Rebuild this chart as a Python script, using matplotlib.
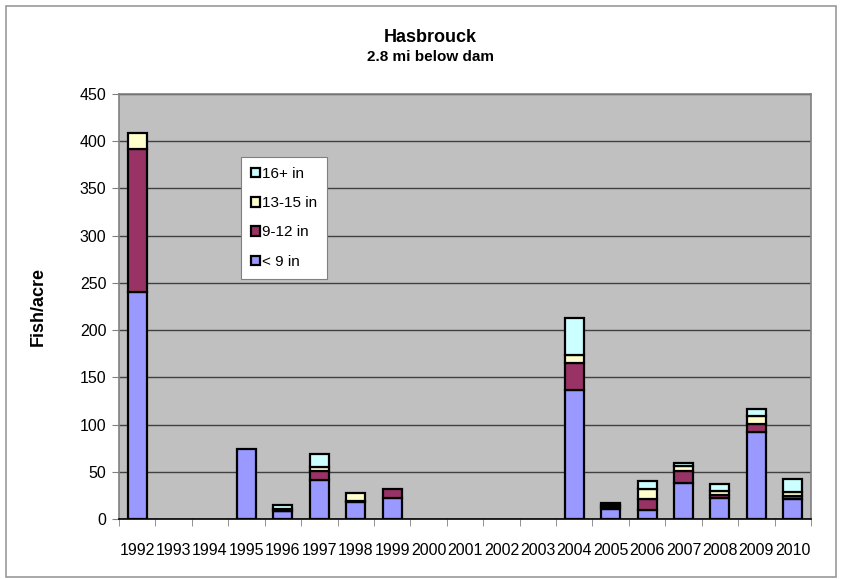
import matplotlib
matplotlib.use("Agg")
import matplotlib.pyplot as plt
import numpy as np
from matplotlib.patches import Rectangle, Patch

years = ["1992", "1993", "1994", "1995", "1996", "1997", "1998", "1999", "2000", "2001",
         "2002", "2003", "2004", "2005", "2006", "2007", "2008", "2009", "2010"]
lt9   = [240, 0, 0, 74, 8, 41, 18, 22, 0, 0, 0, 0, 137, 11, 10, 38, 22, 92, 21]
in9_12 = [152, 0, 0, 0, 1, 10, 1, 10, 0, 0, 0, 0, 28, 2, 11, 13, 3, 9, 3]
in13_15 = [17, 0, 0, 0, 2, 4, 9, 0, 0, 0, 0, 0, 9, 2, 11, 5, 5, 8, 5]
in16p = [0, 0, 0, 0, 4, 14, 0, 0, 0, 0, 0, 0, 39, 2, 8, 3, 7, 8, 13]

series = [("< 9 in", lt9, "#9999FF"),
          ("9-12 in", in9_12, "#993366"),
          ("13-15 in", in13_15, "#FFFFCC"),
          ("16+ in", in16p, "#CCFFFF")]

plt.rcParams['font.family'] = ['Liberation Sans', 'DejaVu Sans']

fig = plt.figure(figsize=(8.42, 5.79), dpi=100)
W, H = 842, 579
ax = fig.add_axes([119 / W, 1 - 519 / H, (811 - 119) / W, (519 - 94) / H])
ax.set_facecolor("#C0C0C0")

x = np.arange(len(years))
bottom = np.zeros(len(years))
handles = []
for name, vals, col in series:
    v = np.array(vals, dtype=float)
    mask = v > 0
    ax.bar(x[mask], v[mask], width=0.52, bottom=bottom[mask], color=col,
           edgecolor="black", linewidth=1.6, zorder=3)
    bottom += v
    handles.append(Patch(facecolor=col, edgecolor="black", linewidth=1.6, label=name))

ax.set_xlim(-0.5, len(years) - 0.5)
ax.set_ylim(0, 450)
ax.set_yticks(np.arange(0, 451, 50))
ax.yaxis.grid(True, color="#404040", linewidth=1.0, zorder=1)
ax.set_axisbelow(True)

ax.set_xticks(x)
ax.set_xticklabels(years, fontsize=11.5)
ax.set_xticks(np.arange(-0.5, len(years), 1), minor=True)
ax.tick_params(axis="x", which="major", length=0, pad=17)
ax.tick_params(axis="x", which="minor", length=5, color="#808080", direction="out")
ax.tick_params(axis="y", labelsize=11.5, length=5, color="#808080", direction="out", pad=4)

for s in ["top", "right"]:
    ax.spines[s].set_color("#808080")
    ax.spines[s].set_linewidth(1.2)
ax.spines["left"].set_color("#808080")
ax.spines["left"].set_linewidth(1.2)
ax.spines["bottom"].set_color("black")
ax.spines["bottom"].set_linewidth(1.2)

ax.set_ylabel("Fish/acre", fontsize=13, fontweight="bold", labelpad=24)

fig.text(430 / W, 1 - 38 / H, "Hasbrouck", ha="center", va="center",
         fontsize=13, fontweight="bold")
fig.text(430 / W, 1 - 57 / H, "2.8 mi below dam", ha="center", va="center",
         fontsize=11, fontweight="bold")

leg = ax.legend(handles=handles[::-1], loc="upper left",
                bbox_to_anchor=((241 - 119) / (811 - 119), (519 - 157) / (519 - 94)),
                fontsize=11, frameon=True, fancybox=False, edgecolor="#808080",
                framealpha=1, handlelength=0.6, handleheight=0.6, handletextpad=0.15,
                labelspacing=1.0, borderpad=0.65, borderaxespad=0)
leg.get_frame().set_linewidth(0.8)

fig.patches.append(Rectangle((6 / W, 1 - 577 / H), (836 - 6) / W, (577 - 6) / H,
                             transform=fig.transFigure, fill=False,
                             edgecolor="#999999", linewidth=1.2))

fig.savefig("out.png", dpi=100)
